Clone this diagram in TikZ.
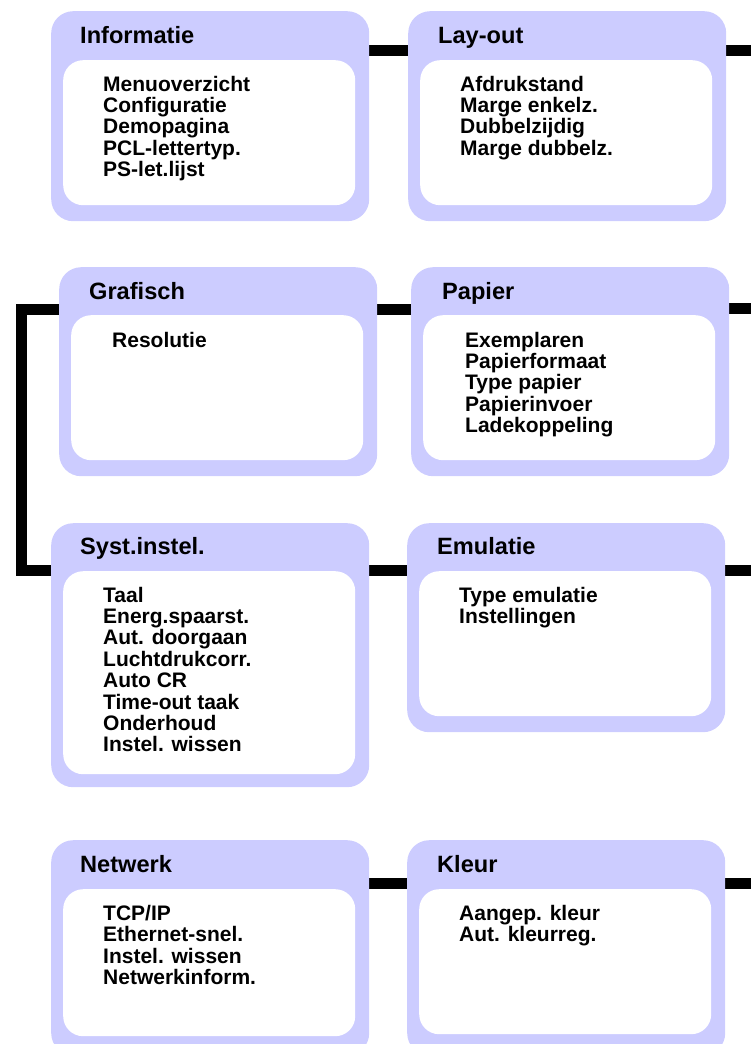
\documentclass[tikz,border=0pt]{standalone}
\usepackage{fontspec}
\setmainfont{Liberation Sans}
\usetikzlibrary{backgrounds}
\definecolor{menublauw}{RGB}{204,204,255}

\begin{document}
\begin{tikzpicture}[x=1pt,y=-1pt,
  buiten/.style={fill=menublauw, rounded corners=22pt, inner sep=0pt, anchor=north west, minimum width=318pt},
  binnen/.style={fill=white, rounded corners=20pt, inner sep=0pt, anchor=north west, minimum width=292pt},
  kop/.style={font=\fontsize{23.6}{25}\selectfont\bfseries, anchor=base west, inner sep=0pt},
  lijst/.style={font=\fontsize{21}{21.4}\selectfont\bfseries, align=left, anchor=north west, inner sep=0pt},
  lijn/.style={line width=11pt}]

\useasboundingbox (0,0) rectangle (751,1044);

% bovenste rij
\node[buiten, minimum height=210pt] (info) at (51,11) {};
\node[binnen, minimum height=145pt] (info-in) at (63,60) {};
\node[kop] (info-kop) at (80,43.5) {Informatie};
\node[lijst] (info-lijst) at (103,75.6) {Menuoverzicht\\Configuratie\\Demopagina\\PCL-lettertyp.\\PS-let.lijst};

\node[buiten, minimum height=210pt] (layout) at (408,11) {};
\node[binnen, minimum height=145pt] (layout-in) at (420,60) {};
\node[kop] (layout-kop) at (438,43.5) {Lay-out};
\node[lijst] (layout-lijst) at (460,75.6) {Afdrukstand\\Marge enkelz.\\Dubbelzijdig\\Marge dubbelz.};

% tweede rij
\node[buiten, minimum height=209pt] (grafisch) at (59,267) {};
\node[binnen, minimum height=145pt] (grafisch-in) at (71,315) {};
\node[kop] (grafisch-kop) at (89,299.3) {Grafisch};
\node[lijst] (grafisch-lijst) at (112,332.2) {Resolutie};

\node[buiten, minimum height=209pt] (papier) at (411,267) {};
\node[binnen, minimum height=145pt] (papier-in) at (423,315) {};
\node[kop] (papier-kop) at (442,299.3) {Papier};
\node[lijst] (papier-lijst) at (465,331.6) {Exemplaren\\Papierformaat\\Type papier\\Papierinvoer\\Ladekoppeling};

% derde rij
\node[buiten, minimum height=264pt] (syst) at (51,523) {};
\node[binnen, minimum height=203pt] (syst-in) at (63,571) {};
\node[kop] (syst-kop) at (80,554) {Syst.instel.};
\node[lijst] (syst-lijst) at (103,586.6) {Taal\\Energ.spaarst.\\Aut. doorgaan\\Luchtdrukcorr.\\Auto CR\\Time-out taak\\Onderhoud\\Instel. wissen};

\node[buiten, minimum height=209pt] (emulatie) at (407,523) {};
\node[binnen, minimum height=145pt] (emulatie-in) at (419,571) {};
\node[kop] (emulatie-kop) at (437,554) {Emulatie};
\node[lijst] (emulatie-lijst) at (459,586.6) {Type emulatie\\Instellingen};

% onderste rij
\node[buiten, minimum height=215pt] (netwerk) at (51,840) {};
\node[binnen, minimum height=147pt] (netwerk-in) at (63,889) {};
\node[kop] (netwerk-kop) at (80,872.7) {Netwerk};
\node[lijst] (netwerk-lijst) at (103,904.9) {TCP/IP\\Ethernet-snel.\\Instel. wissen\\Netwerkinform.};

\node[buiten, minimum height=215pt] (kleur) at (407,840) {};
\node[binnen, minimum height=145pt] (kleur-in) at (419,889) {};
\node[kop] (kleur-kop) at (437,872.7) {Kleur};
\node[lijst] (kleur-lijst) at (459,904.9) {Aangep. kleur\\Aut. kleurreg.};

% verbindingen
\coordinate (rand-a) at (760,50);
\coordinate (rand-b) at (760,308);
\coordinate (rand-c) at (760,570);
\coordinate (rand-d) at (760,883);
\coordinate (hoek-a) at (21,309);
\coordinate (hoek-b) at (21,570);

\begin{scope}[on background layer]
\draw[lijn] (info.center |- rand-a) -- (rand-a);
\draw[lijn] (grafisch.center |- hoek-a) -- (papier.center |- hoek-a);
\draw[lijn] (papier.center |- rand-b) -- (rand-b);
\draw[lijn] (grafisch.center |- hoek-a) -- (hoek-a) -- (hoek-b) -- (syst.center |- hoek-b);
\draw[lijn] (syst.center |- rand-c) -- (rand-c);
\draw[lijn] (netwerk.center |- rand-d) -- (rand-d);
\end{scope}

\end{tikzpicture}
\end{document}
